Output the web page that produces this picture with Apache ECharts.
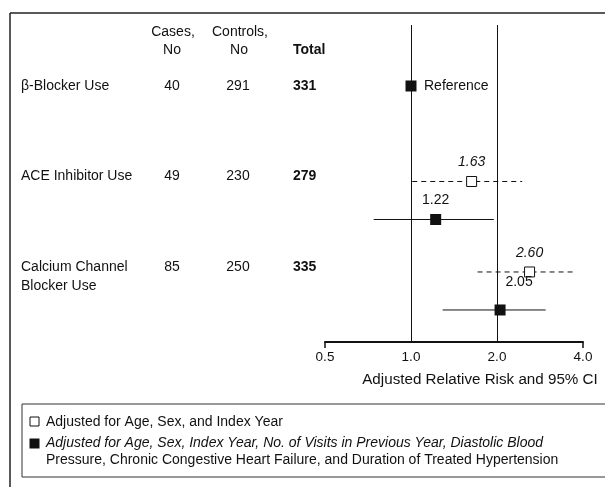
<!DOCTYPE html>
<html>
<head>
<meta charset="utf-8">
<script src="https://cdn.jsdelivr.net/npm/echarts@6/dist/echarts.min.js"></script>
<style>
  html, body { margin: 0; padding: 0; background: #fff; }
  #chart { width: 605px; height: 487px; }
</style>
</head>
<body>
<div id="chart"></div>
<script>
// ---- data ----
const drugClasses = ['β-Blocker Use', 'ACE Inhibitor Use', 'Calcium Channel\nBlocker Use'];
const casesNo = [40, 49, 85];
const controlsNo = [291, 230, 250];
const totals = [331, 279, 335];

// Relative risk adjusted for age, sex and index year (none for the reference group)
const basicRR = [null, 1.63, 2.60];
const basicLow = [null, 1.01, 1.71];
const basicHigh = [null, 2.45, 3.72];

// Fully adjusted relative risk (β-blocker use is the reference, RR = 1)
const adjRR = [1, 1.22, 2.05];
const adjLow = [null, 0.74, 1.29];
const adjHigh = [null, 1.95, 2.96];

const xTickValues = [0.5, 1, 2, 4];
const referenceLines = [1, 2];

const basicName = 'Adjusted for Age, Sex, and Index Year';
const adjName = 'Adjusted for Age, Sex, Index Year, No. of Visits in Previous Year, Diastolic Blood Pressure, Chronic Congestive Heart Failure, and Duration of Treated Hypertension';

// ---- styling / layout ----
const FONT = '"Liberation Sans", Arial, Helvetica, sans-serif';
const INK = '#111';
const TXT = 14;
const BASIC_DY = 5;    // open-square estimate sits just under the row text line
const ADJ_DY = 43;     // filled-square estimate sits on the next line
const COL_NAME_X = 21;
const COL_CASES_X = 172;
const COL_CONTROLS_X = 238;
const COL_TOTAL_X = 293;

function font(size, opts) {
  opts = opts || {};
  return (opts.italic ? 'italic ' : '') + (opts.bold ? 'bold ' : '') + size + 'px ' + FONT;
}

function txt(x, y, text, opts) {
  opts = opts || {};
  return {
    type: 'text',
    style: {
      text: text, x: x, y: y,
      font: font(opts.size || TXT, opts),
      fill: INK,
      align: opts.align || 'left',
      verticalAlign: opts.va || 'middle',
      lineHeight: opts.lineHeight || 19
    }
  };
}

const basicData = basicRR
  .map((v, i) => v == null ? null : { value: [v, basicLow[i], basicHigh[i], i] })
  .filter(Boolean);
const adjData = adjRR.map((v, i) => ({
  value: [v, adjLow[i] == null ? v : adjLow[i], adjHigh[i] == null ? v : adjHigh[i], i]
}));
const tableData = drugClasses.map((n, i) => ({ value: [1, 1, 1, i] }));

// label position: lift it clear of a reference line when the estimate sits on one
function labelShift(v) {
  const l = Math.log2(v);
  const near = Math.abs(l - Math.round(l)) < 0.1;
  return near ? { dx: 19, dy: -28 } : { dx: 0, dy: -19 };
}

function renderEstimate(kind) {
  return function (params, api) {
    const est = api.value(0), lo = api.value(1), hi = api.value(2), row = api.value(3);
    const base = api.coord([est, row]);
    const soloRow = basicRR[row] == null;
    const dy = kind === 'basic' ? BASIC_DY : (soloRow ? 0 : ADJ_DY);
    const y = base[1] + dy;
    const cx = base[0];
    const children = [];
    if (lo !== hi) {
      const x0 = api.coord([lo, row])[0];
      const x1 = api.coord([hi, row])[0];
      children.push({
        type: 'line',
        shape: { x1: x0, y1: y, x2: x1, y2: y },
        style: {
          stroke: INK, lineWidth: 1,
          lineDash: kind === 'basic' ? [5, 4] : null
        }
      });
    }
    const s = kind === 'basic' ? 10 : 11;
    children.push({
      type: 'rect',
      shape: { x: cx - s / 2, y: y - s / 2, width: s, height: s },
      style: kind === 'basic'
        ? { fill: '#fff', stroke: INK, lineWidth: 1 }
        : { fill: INK, stroke: INK, lineWidth: 0 }
    });
    if (soloRow && kind === 'adj') {
      children.push(txt(cx + 13, y, 'Reference'));
    } else {
      const sh = labelShift(est);
      children.push(txt(cx + sh.dx, y + sh.dy, est.toFixed(2),
        { align: 'center', italic: kind === 'basic' }));
    }
    return { type: 'group', children: children };
  };
}

function renderTableRow(params, api) {
  const row = api.value(3);
  const y = api.coord([1, row])[1];
  return {
    type: 'group',
    children: [
      txt(COL_NAME_X, y - 9.5, drugClasses[row], { va: 'top' }),
      txt(COL_CASES_X, y, String(casesNo[row]), { align: 'center' }),
      txt(COL_CONTROLS_X, y, String(controlsNo[row]), { align: 'center' }),
      txt(COL_TOTAL_X, y, String(totals[row]), { bold: true })
    ]
  };
}

const chart = echarts.init(document.getElementById('chart'), null, { renderer: 'canvas' });

chart.setOption({
  backgroundColor: '#fff',
  animation: false,
  grid: { left: 325, right: 22, top: 25, bottom: 145, containLabel: false, outerBoundsMode: 'none' },
  xAxis: {
    type: 'log',
    logBase: 2,
    min: 0.5,
    max: 4,
    axisLine: { onZero: false, lineStyle: { color: INK, width: 2 } },
    axisTick: { show: true, customValues: [xTickValues[0], xTickValues[xTickValues.length - 1]], length: 6, lineStyle: { color: INK, width: 1.5 } },
    axisLabel: {
      customValues: xTickValues,
      formatter: v => Number(v).toFixed(1),
      fontFamily: FONT, fontSize: 13.5, color: INK, margin: 8
    },
    splitLine: { show: false },
    name: 'Adjusted Relative Risk and 95% CI',
    nameLocation: 'middle',
    nameGap: 30,
    nameTextStyle: { fontFamily: FONT, fontSize: 15.2, color: INK, padding: [0, 0, 0, 52] }
  },
  yAxis: {
    type: 'value',
    inverse: true,
    min: -0.674,
    max: 2.829,
    show: false
  },
  series: [
    {
      name: 'table',
      type: 'custom',
      clip: false,
      silent: true,
      renderItem: renderTableRow,
      encode: { x: 0, y: 3 },
      data: tableData
    },
    {
      name: basicName,
      type: 'custom',
      clip: false,
      renderItem: renderEstimate('basic'),
      encode: { x: [0, 1, 2], y: 3 },
      data: basicData,
      z: 3
    },
    {
      name: adjName,
      type: 'custom',
      clip: false,
      renderItem: renderEstimate('adj'),
      encode: { x: [0, 1, 2], y: 3 },
      data: adjData,
      z: 3,
      markLine: {
        silent: true,
        symbol: 'none',
        label: { show: false },
        lineStyle: { color: INK, width: 1, type: 'solid' },
        data: referenceLines.map(v => ({ xAxis: v }))
      }
    }
  ],
  graphic: [
    // frame
    { type: 'line', shape: { x1: 10, y1: 13, x2: 605, y2: 13 }, style: { stroke: '#222', lineWidth: 1.5 } },
    { type: 'line', shape: { x1: 10, y1: 13, x2: 10, y2: 487 }, style: { stroke: '#222', lineWidth: 1.5 } },
    // column headers
    txt(COL_CASES_X + 1, 32, 'Cases,', { align: 'center' }),
    txt(COL_CASES_X, 50, 'No', { align: 'center' }),
    txt(COL_CONTROLS_X + 2, 32, 'Controls,', { align: 'center' }),
    txt(COL_CONTROLS_X + 1, 50, 'No', { align: 'center' }),
    txt(COL_TOTAL_X, 50, 'Total', { bold: true }),
    // key box
    { type: 'rect', shape: { x: 22, y: 404, width: 600, height: 73 }, style: { fill: 'none', stroke: '#333', lineWidth: 1 } },
    { type: 'rect', shape: { x: 30, y: 417, width: 9, height: 9 }, style: { fill: '#fff', stroke: INK, lineWidth: 1 } },
    txt(46, 422, basicName),
    { type: 'rect', shape: { x: 29.5, y: 438.5, width: 10, height: 10 }, style: { fill: INK } },
    txt(46, 443, 'Adjusted for Age, Sex, Index Year, No. of Visits in Previous Year, Diastolic Blood', { italic: true }),
    txt(46, 460, 'Pressure, Chronic Congestive Heart Failure, and Duration of Treated Hypertension')
  ]
});
</script>
</body>
</html>
